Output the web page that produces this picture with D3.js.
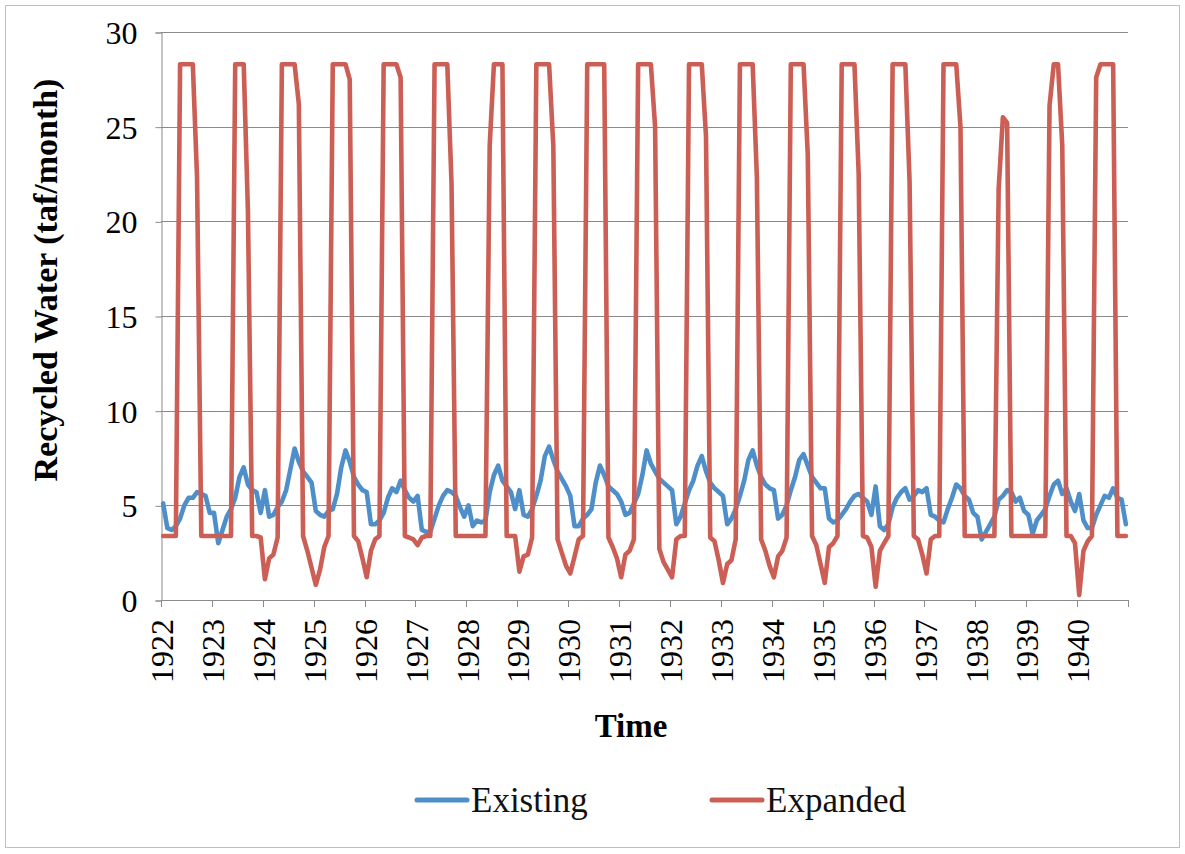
<!DOCTYPE html>
<html>
<head>
<meta charset="utf-8">
<script src="https://cdnjs.cloudflare.com/ajax/libs/d3/7.8.5/d3.min.js"></script>
<style>
  body { margin: 0; background: #fff; }
  svg { display: block; }
</style>
</head>
<body>
<svg id="chart" width="1185" height="854"></svg>
<script>
// Monthly recycled water deliveries, 1922–1940 (taf/month), one row per year
const yearLabels = d3.range(1922, 1941).map(String);
const yTickValues = [0, 5, 10, 15, 20, 25, 30];
const seriesNames = ["Existing", "Expanded"];

const existing = [
  5.1, 3.8, 3.7, 3.9, 4.3, 5.0, 5.4, 5.4, 5.7, 5.6, 5.5, 4.6,
  4.6, 3.0, 3.7, 4.4, 4.8, 5.4, 6.5, 7.0, 6.1, 5.8, 5.7, 4.6,
  5.8, 4.4, 4.5, 4.9, 5.2, 5.8, 6.9, 8.0, 7.3, 6.8, 6.5, 6.2,
  4.7, 4.5, 4.4, 4.7, 4.8, 5.6, 7.0, 7.9, 7.3, 6.5, 6.1, 5.8,
  5.7, 4.0, 4.0, 4.2, 4.6, 5.4, 5.9, 5.7, 6.3, 5.8, 5.4, 5.2,
  5.5, 3.7, 3.6, 3.6, 4.3, 5.0, 5.5, 5.8, 5.7, 5.5, 4.9, 4.4,
  5.0, 3.9, 4.2, 4.1, 4.2, 5.7, 6.6, 7.1, 6.3, 6.0, 5.7, 4.8,
  5.8, 4.5, 4.4, 4.8, 5.5, 6.3, 7.6, 8.1, 7.4, 6.8, 6.4, 6.0,
  5.5, 3.9, 3.9, 4.3, 4.5, 4.8, 6.2, 7.1, 6.6, 6.0, 5.8, 5.6,
  5.2, 4.5, 4.6, 5.1, 5.6, 6.6, 7.9, 7.2, 6.8, 6.4, 6.2, 6.0,
  5.8, 4.0, 4.4, 5.1, 5.8, 6.3, 7.1, 7.6, 6.8, 6.2, 5.9, 5.7,
  5.5, 4.0, 4.3, 4.8, 5.5, 6.3, 7.4, 7.9, 7.1, 6.5, 6.1, 5.9,
  5.8, 4.3, 4.5, 5.0, 5.8, 6.5, 7.4, 7.7, 7.1, 6.5, 6.2, 5.9,
  5.9, 4.3, 4.1, 4.2, 4.5, 4.8, 5.2, 5.5, 5.6, 5.4, 5.2, 4.5,
  6.0, 3.9, 3.7, 4.0, 4.9, 5.4, 5.7, 5.9, 5.3, 5.5, 5.8, 5.7,
  5.9, 4.5, 4.4, 4.2, 4.1, 4.8, 5.4, 6.1, 5.9, 5.5, 5.3, 4.6,
  4.4, 3.2, 3.6, 4.0, 4.4, 5.3, 5.5, 5.8, 5.7, 5.2, 5.4, 4.7,
  4.5, 3.5, 4.2, 4.5, 4.8, 5.5, 6.1, 6.3, 5.6, 5.9, 5.2, 4.7,
  5.6, 4.2, 3.8, 3.8, 4.5, 5.0, 5.5, 5.4, 5.9, 5.4, 5.3, 4.0
];

const expanded = [
  3.38, 3.38, 3.38, 3.38, 28.3, 28.3, 28.3, 28.3, 22.3, 3.38, 3.38, 3.38,
  3.38, 3.38, 3.38, 3.38, 3.38, 28.3, 28.3, 28.3, 20.5, 3.38, 3.38, 3.3,
  1.1, 2.2, 2.4, 3.3, 28.3, 28.3, 28.3, 28.3, 26.2, 3.38, 2.6, 1.7,
  0.8, 1.6, 2.8, 3.38, 28.3, 28.3, 28.3, 28.3, 27.5, 3.38, 3.1, 2.2,
  1.2, 2.6, 3.2, 3.38, 28.3, 28.3, 28.3, 28.3, 27.6, 3.38, 3.3, 3.2,
  2.9, 3.3, 3.38, 3.38, 28.3, 28.3, 28.3, 28.3, 22.0, 3.38, 3.38, 3.38,
  3.38, 3.38, 3.38, 3.38, 3.38, 24.0, 28.3, 28.3, 28.3, 3.38, 3.38, 3.38,
  1.5, 2.3, 2.4, 3.3, 28.3, 28.3, 28.3, 28.3, 24.0, 3.2, 2.5, 1.8,
  1.4, 2.3, 3.2, 3.38, 28.3, 28.3, 28.3, 28.3, 28.3, 3.3, 2.8, 2.2,
  1.2, 2.4, 2.6, 3.2, 28.3, 28.3, 28.3, 28.3, 25.0, 2.7, 2.0, 1.6,
  1.2, 3.2, 3.38, 3.38, 28.3, 28.3, 28.3, 28.3, 24.5, 3.3, 3.1, 2.1,
  0.9, 1.9, 2.1, 3.2, 28.3, 28.3, 28.3, 28.3, 22.3, 3.2, 2.6, 1.8,
  1.2, 2.3, 2.6, 3.3, 28.3, 28.3, 28.3, 28.3, 23.5, 3.38, 2.9, 1.9,
  0.9, 2.8, 3.0, 3.38, 28.3, 28.3, 28.3, 28.3, 22.5, 3.38, 3.3, 2.8,
  0.7, 2.6, 3.0, 3.38, 28.3, 28.3, 28.3, 28.3, 22.1, 3.38, 3.2, 2.4,
  1.4, 3.2, 3.38, 3.38, 28.3, 28.3, 28.3, 28.3, 25.0, 3.38, 3.38, 3.38,
  3.38, 3.38, 3.38, 3.38, 3.38, 21.7, 25.5, 25.2, 3.38, 3.38, 3.38, 3.38,
  3.38, 3.38, 3.38, 3.38, 3.38, 26.1, 28.3, 28.3, 24.0, 3.38, 3.38, 3.0,
  0.26, 2.6, 3.1, 3.38, 27.6, 28.3, 28.3, 28.3, 28.3, 3.38, 3.38, 3.38
];

const colors = { Existing: "#4F8FC9", Expanded: "#CC5F55" };
const gridColor = "#8A8A8A";
const serif = "'Liberation Serif', 'Times New Roman', serif";

const svg = d3.select("#chart");
const W = 1185, H = 854;
const plot = { left: 161, right: 1128, top: 32, bottom: 600 };

// Outer frame
svg.append("rect")
  .attr("x", 5.5).attr("y", 5.5)
  .attr("width", W - 11).attr("height", H - 12)
  .attr("fill", "#fff").attr("stroke", "#BFBFBF").attr("stroke-width", 1);

const months = d3.range(existing.length);
const x = d3.scaleBand().domain(months).range([plot.left, plot.right]);
const xc = i => x(i) + x.bandwidth() / 2;
const y = d3.scaleLinear().domain([0, 30]).range([plot.bottom, plot.top]);

// Horizontal gridlines
svg.append("g")
  .selectAll("line")
  .data(yTickValues.filter(v => v > 0))
  .join("line")
  .attr("x1", plot.left).attr("x2", plot.right)
  .attr("y1", d => Math.round(y(d)) + 0.5).attr("y2", d => Math.round(y(d)) + 0.5)
  .attr("stroke", gridColor).attr("stroke-width", 1);

// Y axis with left ticks
const yAxis = svg.append("g")
  .attr("transform", `translate(${plot.left + 0.5},0.5)`)
  .call(d3.axisLeft(y).tickValues(yTickValues).tickSize(6).tickPadding(18).tickFormat(d3.format("d")));
yAxis.select(".domain").attr("stroke", gridColor);
yAxis.selectAll(".tick line").attr("stroke", gridColor);
yAxis.selectAll(".tick text")
  .attr("font-family", serif).attr("font-size", 32).attr("fill", "#000")
  .attr("dy", "0.34em");

// X axis: a tick at every year boundary plus the axis end
const tickPositions = yearLabels.map((_, k) => x(k * 12)).concat([plot.right]);
const xAxisG = svg.append("g");
xAxisG.append("line")
  .attr("x1", plot.left).attr("x2", plot.right)
  .attr("y1", plot.bottom + 0.5).attr("y2", plot.bottom + 0.5)
  .attr("stroke", gridColor);
xAxisG.selectAll("line.tick")
  .data(tickPositions)
  .join("line")
  .attr("class", "tick")
  .attr("x1", d => Math.round(d) + 0.5).attr("x2", d => Math.round(d) + 0.5)
  .attr("y1", plot.bottom).attr("y2", plot.bottom + 7)
  .attr("stroke", gridColor);
xAxisG.selectAll("text")
  .data(yearLabels)
  .join("text")
  .attr("transform", (d, k) => `translate(${x(k * 12) + 1},${plot.bottom + 19}) rotate(-90)`)
  .attr("text-anchor", "end")
  .attr("dy", "0.35em")
  .attr("font-family", serif).attr("font-size", 32).attr("fill", "#000")
  .text(d => d);

// Series lines
const line = d3.line().x((d, i) => xc(i)).y(d => y(d));
const seriesData = { Existing: existing, Expanded: expanded };
seriesNames.forEach(name => {
  svg.append("path")
    .datum(seriesData[name])
    .attr("d", line)
    .attr("fill", "none")
    .attr("stroke", colors[name])
    .attr("stroke-width", 4.6)
    .attr("stroke-linejoin", "round")
    .attr("stroke-linecap", "round");
});

// Axis titles
svg.append("text")
  .attr("transform", `translate(57,${(plot.top + plot.bottom) / 2 - 36}) rotate(-90)`)
  .attr("text-anchor", "middle")
  .attr("font-family", serif).attr("font-weight", "bold").attr("font-size", 34)
  .text("Recycled Water (taf/month)");

svg.append("text")
  .attr("x", 631).attr("y", 737)
  .attr("text-anchor", "middle")
  .attr("font-family", serif).attr("font-weight", "bold").attr("font-size", 33)
  .text("Time");

// Legend
const legendItems = [
  { name: "Existing", x: 417 },
  { name: "Expanded", x: 712 }
];
const lg = svg.append("g");
legendItems.forEach(item => {
  lg.append("line")
    .attr("x1", item.x).attr("x2", item.x + 50)
    .attr("y1", 800).attr("y2", 800)
    .attr("stroke", colors[item.name]).attr("stroke-width", 5)
    .attr("stroke-linecap", "round");
  lg.append("text")
    .attr("x", item.x + 54).attr("y", 812)
    .attr("font-family", serif).attr("font-size", 35).attr("fill", "#111")
    .text(item.name);
});
</script>
</body>
</html>
